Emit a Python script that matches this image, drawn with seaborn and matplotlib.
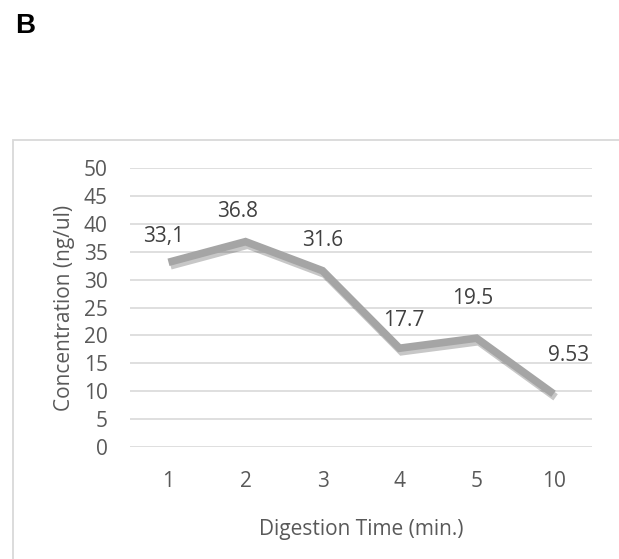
import matplotlib
matplotlib.use("Agg")
import matplotlib.pyplot as plt
import matplotlib.patheffects as pe
from matplotlib.patches import Rectangle
import seaborn as sns
import pandas as pd

times = ["1", "2", "3", "4", "5", "10"]
concentration = [33.1, 36.8, 31.6, 17.7, 19.5, 9.53]
labels = ["33,1", "36.8", "31.6", "17.7", "19.5", "9.53"]
yticks = [0, 5, 10, 15, 20, 25, 30, 35, 40, 45, 50]

# label placement offsets (pixels) - styling only
label_dx = [-5, -8, 0, 4, -4, 15]
label_dy = [26, 30, 30, 28, 40, 38]

sns.set_theme(style="white")
plt.rcParams['font.family'] = ['Open Sans', 'DejaVu Sans']

W, H = 619, 559
fig = plt.figure(figsize=(W / 100, H / 100), dpi=100)

# outer chart frame
fig.patches.append(Rectangle((13 / W, -0.1), 1.2, (559 - 140) / H + 0.1,
                             transform=fig.transFigure, fill=False,
                             edgecolor="#d9d9d9", linewidth=1.3))

fig.text(15 / W, 1 - 33 / H, "B", fontsize=20, fontweight="bold",
         family="Liberation Sans", color="black")

ax = fig.add_axes([130 / W, (559 - 447) / H, (592 - 130) / W, (447 - 168) / H])

df = pd.DataFrame({"idx": range(len(times)), "time": times, "conc": concentration})
sns.lineplot(data=df, x="idx", y="conc", ax=ax, color="#a5a5a5", linewidth=5.5,
             solid_capstyle="butt", solid_joinstyle="miter",
             path_effects=[pe.SimpleLineShadow(offset=(1.5, -2.5), alpha=0.22, shadow_color="black"),
                           pe.Normal()])

px2pt = 72 / 100
for i, (v, lab) in enumerate(zip(concentration, labels)):
    ax.annotate(lab, (i, v), xytext=(label_dx[i] * px2pt, label_dy[i] * px2pt),
                textcoords="offset points", ha="center", va="center",
                fontsize=15, color="#404040")

ax.set_xlim(-0.5, len(times) - 0.5)
ax.set_ylim(0, 50)
ax.set_yticks(yticks)
ax.set_xticks(range(len(times)))
ax.set_xticklabels(times)
for s in ax.spines.values():
    s.set_visible(False)
ax.grid(axis="y", color="#d9d9d9", linewidth=1.2)
ax.grid(axis="x", visible=False)
ax.set_axisbelow(True)
ax.tick_params(axis="x", length=0, pad=17, labelsize=15, labelcolor="#595959")
ax.tick_params(axis="y", length=0, pad=16, labelsize=15, labelcolor="#595959")
ax.set_xlabel("Digestion Time (min.)", fontsize=15, color="#595959", labelpad=20)
ax.set_ylabel("Concentration (ng/ul)", fontsize=15, color="#595959", labelpad=6)

fig.savefig("out.png", dpi=100)
